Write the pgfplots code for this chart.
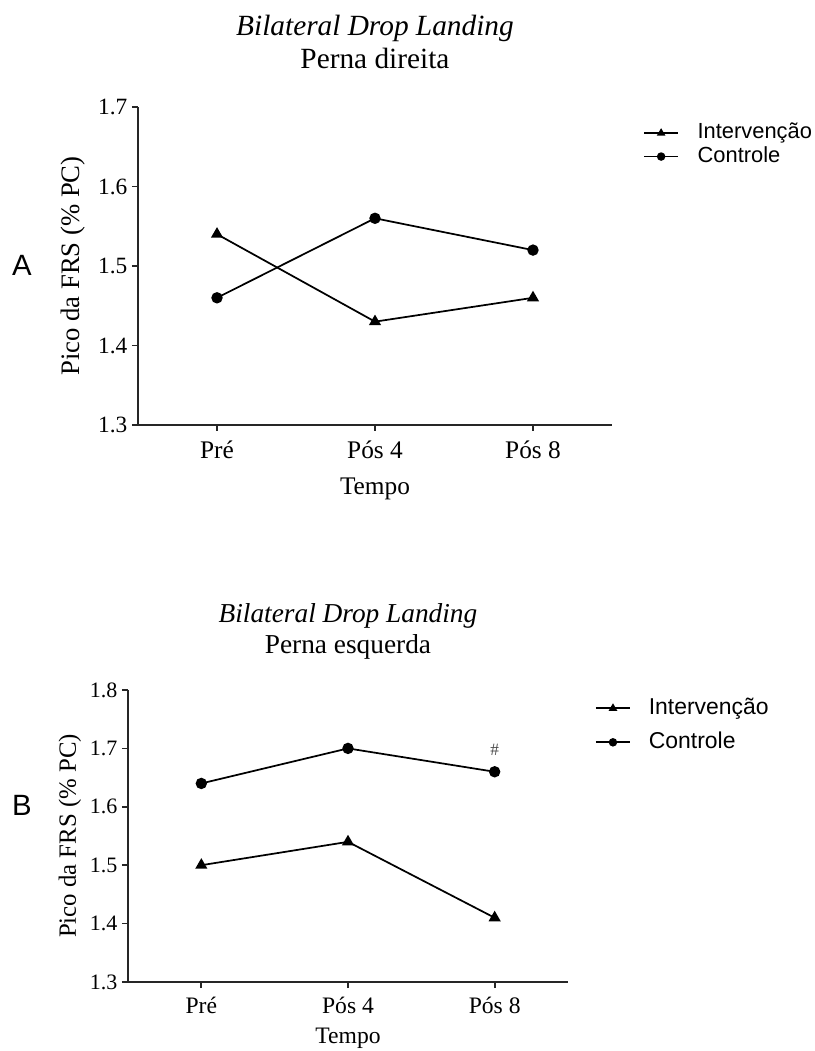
\documentclass[border=0pt]{standalone}
\usepackage{pgfplots}
\pgfplotsset{compat=1.18}
\usepackage{fontspec}
\setmainfont{Liberation Serif}
\newfontfamily\arialfont{Liberation Sans}

\pgfplotstableread{
x y
0 1.54
1 1.43
2 1.46
}\AInt
\pgfplotstableread{
x y
0 1.46
1 1.56
2 1.52
}\ACon
\pgfplotstableread{
x y
0 1.50
1 1.54
2 1.41
}\BInt
\pgfplotstableread{
x y
0 1.64
1 1.70
2 1.66
}\BCon

\pgfplotsset{
  grstyle/.style={
    scale only axis, clip=false,
    axis x line*=bottom, axis y line*=left,
    axis line style={line width=1.3pt, black!85},
    tick style={line width=1.3pt, black!85},
    major tick length=4.5pt,
    tick align=outside,
    xmin=-0.5, xmax=2.5,
    xtick={0,1,2},
    xticklabels={Pré,Pós 4,Pós 8},
    legend cell align=left,
    legend image code/.code={\draw[##1, mark repeat=2, mark phase=2, mark size=2.5pt] plot coordinates {(0pt,0pt) (12.75pt,0pt) (25.5pt,0pt)};},
  },
  intstyle/.style={black, line width=1.3pt, mark=triangle*, mark size=4pt, mark options={solid, fill=black}},
  constyle/.style={black, line width=1.3pt, mark=*, mark size=3.6pt, mark options={solid, fill=black}},
}

\begin{document}
\begin{tikzpicture}
\useasboundingbox (0,0) rectangle (611.25pt,788.25pt);

% Panel A
\begin{axis}[grstyle,
  at={(103.5pt,469.5pt)}, anchor=south west,
  width=355.5pt, height=238.5pt,
  ymin=1.3, ymax=1.7,
  ytick={1.3,1.4,1.5,1.6,1.7},
  yticklabels={1.3,1.4,1.5,1.6,1.7},
  yticklabel style={font=\fontsize{17.5}{20}\selectfont, anchor=east},
  xticklabel style={font=\fontsize{19}{22}\selectfont, anchor=base, yshift=-21pt},
  xlabel={Tempo},
  xlabel style={font=\fontsize{19}{22}\selectfont, at={(axis description cs:0.5,-0.220)}, anchor=base},
  ylabel={Pico da FRS (\% PC)},
  ylabel style={font=\fontsize{20}{23}\selectfont, at={(axis description cs:-0.137,0.5)}, anchor=center},
  legend style={draw=none, fill=none, inner sep=0pt, at={(axis description cs:1.0654,0.953)}, anchor=north west,
    font=\arialfont\fontsize{16.4}{19}\selectfont, row sep=1pt,
    nodes={inner sep=0pt, text height=12.5pt, text depth=4pt},
    /tikz/every odd column/.append style={column sep=14pt}},
]
\addplot[intstyle] table[x=x,y=y] {\AInt};
\addlegendentry{Intervenção}
\addplot[constyle] table[x=x,y=y] {\ACon};
\addlegendentry{Controle}
\node[anchor=base, font=\fontsize{22}{26}\selectfont\itshape] at (axis description cs:0.5,1.2264) {Bilateral Drop Landing};
\node[anchor=base, font=\fontsize{22}{26}\selectfont] at (axis description cs:0.5,1.1226) {Perna direita};
\node[anchor=center, font=\arialfont\fontsize{22}{26}\selectfont] at (axis description cs:-0.2447,0.503) {A};
\end{axis}

% Panel B
\begin{axis}[grstyle,
  at={(96pt,51.75pt)}, anchor=south west,
  width=330pt, height=219pt,
  ymin=1.3, ymax=1.8,
  ytick={1.3,1.4,1.5,1.6,1.7,1.8},
  yticklabels={1.3,1.4,1.5,1.6,1.7,1.8},
  yticklabel style={font=\fontsize{16.5}{19}\selectfont, anchor=east},
  xticklabel style={font=\fontsize{17.7}{20}\selectfont, anchor=base, yshift=-19pt},
  xlabel={Tempo},
  xlabel style={font=\fontsize{17.7}{20}\selectfont, at={(axis description cs:0.5,-0.209)}, anchor=base},
  ylabel={Pico da FRS (\% PC)},
  ylabel style={font=\fontsize{18.6}{21}\selectfont, at={(axis description cs:-0.132,0.5)}, anchor=center},
  legend style={draw=none, fill=none, inner sep=0pt, at={(axis description cs:1.061,0.977)}, anchor=north west,
    font=\arialfont\fontsize{17.2}{20}\selectfont, row sep=8.5pt,
    nodes={inner sep=0pt, text height=13pt, text depth=4pt},
    /tikz/every odd column/.append style={column sep=13.5pt}},
]
\addplot[intstyle] table[x=x,y=y] {\BInt};
\addlegendentry{Intervenção}
\addplot[constyle] table[x=x,y=y] {\BCon};
\addlegendentry{Controle}
\node[font=\fontsize{13}{15}\selectfont, text=black!70] at (axis cs:2,1.697) {\#};
\node[anchor=base, font=\fontsize{20.5}{24}\selectfont\itshape] at (axis description cs:0.5,1.2295) {Bilateral Drop Landing};
\node[anchor=base, font=\fontsize{20.5}{24}\selectfont] at (axis description cs:0.5,1.1267) {Perna esquerda};
\node[anchor=center, font=\arialfont\fontsize{22}{26}\selectfont] at (axis description cs:-0.241,0.606) {B};
\end{axis}
\end{tikzpicture}
\end{document}
